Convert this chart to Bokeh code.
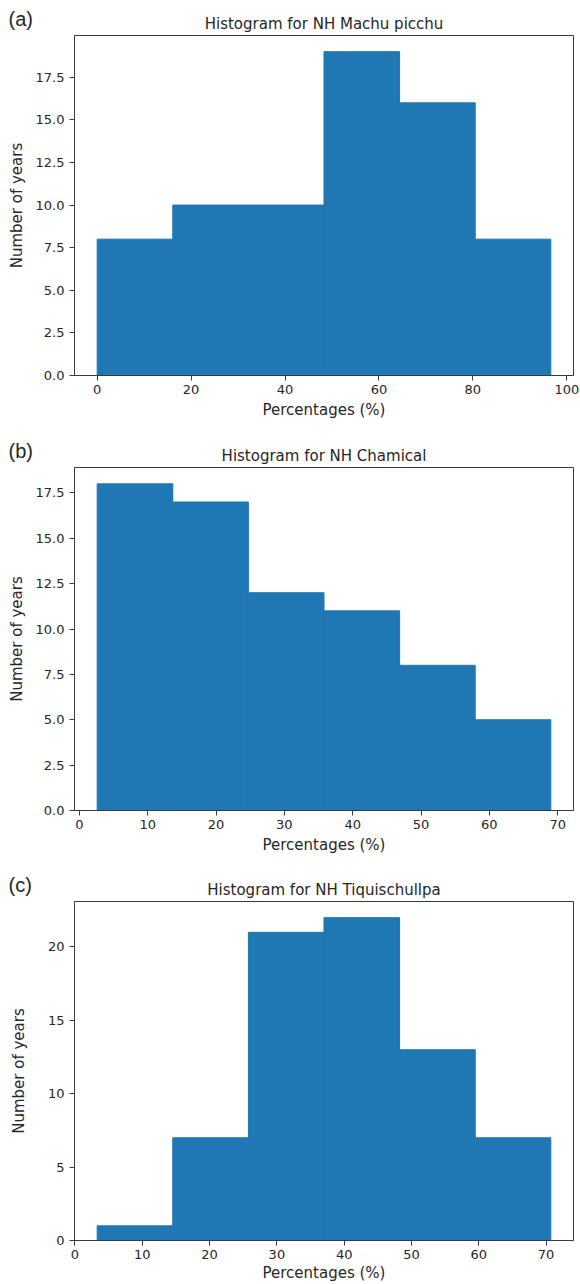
from bokeh.plotting import figure
from bokeh.layouts import column
from bokeh.models import Title, FixedTicker, Range1d, PrintfTickFormatter
from bokeh.embed import file_html
from bokeh.resources import INLINE

# ---- data ----
panel_tags = ["(a)", "(b)", "(c)"]
titles = ["Histogram for NH Machu picchu", "Histogram for NH Chamical", "Histogram for NH Tiquischullpa"]

edges_a = [0.0, 16.1, 32.2, 48.3, 64.4, 80.5, 96.6]
counts_a = [8, 10, 10, 19, 16, 8]

edges_b = [2.6, 13.67, 24.73, 35.8, 46.87, 57.93, 69.0]
counts_b = [18, 17, 12, 11, 8, 5]

edges_c = [3.3, 14.53, 25.77, 37.0, 48.23, 59.47, 70.7]
counts_c = [1, 7, 21, 22, 13, 7]

xticks_a = [0, 20, 40, 60, 80, 100]
xticks_b = [0, 10, 20, 30, 40, 50, 60, 70]
xticks_c = [0, 10, 20, 30, 40, 50, 60, 70]

yticks_a = [0, 2.5, 5, 7.5, 10, 12.5, 15, 17.5]
yticks_b = [0, 2.5, 5, 7.5, 10, 12.5, 15, 17.5]
yticks_c = [0, 5, 10, 15, 20]
yfmt = ["%.1f", "%.1f", "%d"]

x_label = "Percentages (%)"
y_label = "Number of years"

BAR = "#1f77b4"
TXT = "#262626"
FRAME = "#3a3a3a"


def make_panel(tag, title, edges, counts, xticks, yticks, fmt, height, top, bottom, ylab_standoff, xlab_standoff):
    p = figure(width=580, height=height, output_backend="svg", toolbar_location=None, title=None,
               min_border_left=74, min_border_right=7, min_border_top=top, min_border_bottom=bottom)
    span = edges[-1] - edges[0]
    p.x_range = Range1d(edges[0] - 0.05 * span, edges[-1] + 0.05 * span)
    p.y_range = Range1d(0, max(counts) * 1.05)
    p.quad(left=edges[:-1], right=edges[1:], bottom=[0] * len(counts), top=counts,
           fill_color=BAR, line_color=BAR, line_width=1)

    main_title = Title(text=title, align="center", text_font="DejaVu Sans", text_font_size="15px",
                       text_font_style="normal", text_color=TXT, standoff=6)
    tag_title = Title(text=tag, align="left", offset=-66, text_font="Liberation Sans",
                      text_font_size="20px", text_font_style="normal", text_color=TXT, standoff=-40)
    p.add_layout(main_title, "above")
    p.add_layout(tag_title, "above")

    p.grid.visible = False
    p.outline_line_color = FRAME
    p.outline_line_width = 1
    p.outline_line_alpha = 1.0
    p.background_fill_color = "white"
    p.border_fill_color = "white"

    for ax in (p.xaxis[0], p.yaxis[0]):
        ax.axis_line_color = FRAME
        ax.major_tick_line_color = FRAME
        ax.major_tick_in = 0
        ax.major_tick_out = 5
        ax.minor_tick_line_color = None
        ax.major_label_text_font = "DejaVu Sans"
        ax.major_label_text_font_size = "13px"
        ax.major_label_text_color = TXT
        ax.axis_label_text_font = "DejaVu Sans"
        ax.axis_label_text_font_size = "15px"
        ax.axis_label_text_font_style = "normal"
        ax.axis_label_text_color = TXT

    p.xaxis[0].ticker = FixedTicker(ticks=xticks)
    p.yaxis[0].ticker = FixedTicker(ticks=yticks)
    p.yaxis[0].formatter = PrintfTickFormatter(format=fmt)
    p.xaxis[0].axis_label = x_label
    p.yaxis[0].axis_label = y_label
    p.xaxis[0].major_label_standoff = 4
    p.yaxis[0].major_label_standoff = 5
    p.xaxis[0].axis_label_standoff = xlab_standoff
    p.yaxis[0].axis_label_standoff = ylab_standoff
    return p


pa = make_panel(panel_tags[0], titles[0], edges_a, counts_a, xticks_a, yticks_a, yfmt[0], 432, 35, 57, 7, 4)
pb = make_panel(panel_tags[1], titles[1], edges_b, counts_b, xticks_b, yticks_b, yfmt[1], 432, 35, 54, 7, 4)
pc = make_panel(panel_tags[2], titles[2], edges_c, counts_c, xticks_c, yticks_c, yfmt[2], 420, 37, 41, 17, 2)

layout = column(pa, pb, pc, spacing=0)
open("out.html", "w").write(file_html(layout, INLINE))
